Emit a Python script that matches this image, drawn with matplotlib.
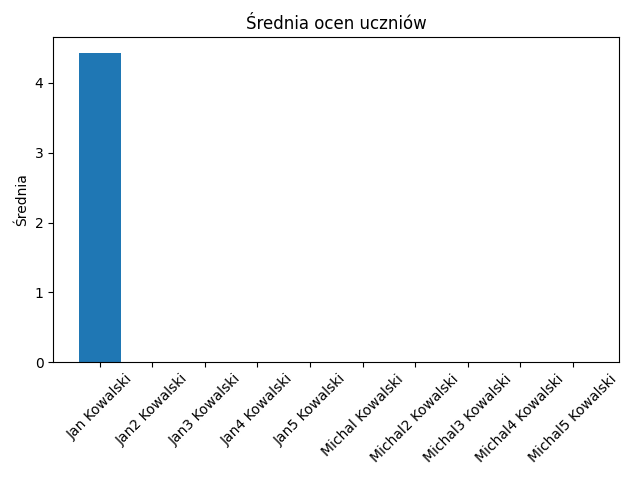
import matplotlib
matplotlib.use("Agg")
import matplotlib.pyplot as plt

uczniowie = ["Jan Kowalski", "Jan2 Kowalski", "Jan3 Kowalski", "Jan4 Kowalski",
             "Jan5 Kowalski", "Michal Kowalski", "Michal2 Kowalski",
             "Michal3 Kowalski", "Michal4 Kowalski", "Michal5 Kowalski"]
srednie = [4.43, 0, 0, 0, 0, 0, 0, 0, 0, 0]

plt.figure(figsize=(6.4, 4.8), dpi=100)
plt.bar(uczniowie, srednie)
plt.ylabel("Średnia")
plt.title("Średnia ocen uczniów")
plt.xticks(rotation=45)
plt.tight_layout()
plt.savefig("out.png")
